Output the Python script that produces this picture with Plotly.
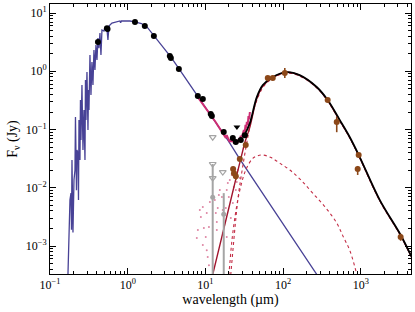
import plotly.graph_objects as go

# ---------------- data ----------------
# stellar photosphere model (blue)
star_wl = [0.1703, 0.1754, 0.1807, 0.1862, 0.1890, 0.1918, 0.1975, 0.2035, 0.2096, 0.2127,
           0.2191, 0.2223, 0.2291, 0.2325, 0.2360, 0.2430, 0.2466, 0.2503, 0.2578, 0.2656,
           0.2735, 0.2818, 0.2860, 0.2902, 0.2990, 0.3080, 0.3126, 0.3172, 0.3267, 0.3365,
           0.3466, 0.3570, 0.3678, 0.3788, 0.3902, 0.4019, 0.4140, 0.4265, 0.4392, 0.4524,
           0.4661, 0.4944, 0.5093, 0.5403, 0.5566, 0.5733, 0.6263, 0.6845, 0.7937, 0.8100,
           0.8300, 0.9205, 1.067, 1.275, 1.5, 1.8, 2.17, 2.6, 3.1, 3.6,
           4.2, 5.0, 6.0, 7.0, 8.0, 10.0, 12.0, 17.2, 20.0, 27.7,
           40.0, 60.0, 100.0, 200.0, 300.0]
star_flux = [3.3e-4, 1.43e-3, 6.2e-3, 8.1e-3, 1.9e-3, 0.030, 1.7e-3, 0.0136, 0.0202, 0.164,
             9.1e-3, 0.0445, 0.0395, 6.2e-3, 0.146, 0.030, 0.321, 0.066, 0.581, 0.0445,
             0.216, 0.030, 0.708, 0.146, 0.971, 0.098, 0.476, 0.216, 1.90, 0.391,
             1.44, 0.581, 2.32, 1.05, 2.82, 1.56, 3.72, 2.5, 4.53, 1.9,
             5.11, 4.91, 5.75, 5.31, 3.44, 5.98, 6.73, 7.0, 7.3, 6.8,
             7.3, 7.35, 7.3, 7.0, 6.6, 5.6, 4.1, 3.1, 2.3, 1.75,
             1.3, 0.93, 0.65, 0.49, 0.38, 0.245, 0.17, 0.084, 0.062, 0.031,
             0.0148, 0.0066, 0.0024, 6.0e-4, 2.65e-4]

# IRS spectrum (pink)
irs_wl = [7.98, 9.0, 10.0, 11.0, 12.1, 13.5, 15.0, 16.3, 17.5, 18.3, 18.8, 19.4, 20.0, 20.6,
          21.2, 21.8, 22.5, 23.2, 24.0, 24.6, 25.3, 26.1, 27.0, 27.7, 28.5, 29.3, 30.2,
          31.2, 32.0, 32.8, 33.5, 34.1, 35.0, 35.8, 36.5, 37.3]
irs_flux = [0.361, 0.29, 0.235, 0.195, 0.165, 0.135, 0.108, 0.092, 0.082, 0.072, 0.080, 0.070,
            0.066, 0.061, 0.068, 0.062, 0.066, 0.060, 0.063, 0.059, 0.064, 0.062, 0.070, 0.066,
            0.078, 0.072, 0.090, 0.098, 0.090, 0.120, 0.105, 0.135, 0.120, 0.170, 0.150, 0.200]

# excess spectrum points (small pink dots)
exc_wl = [7.75, 7.99, 8.47, 8.73, 9.26, 9.26, 9.54, 10.1, 10.4, 10.4, 10.7, 11.1, 11.1, 11.4,
          13.2, 13.6, 14.0, 14.0, 14.4, 14.9, 15.3, 16.3, 16.7, 16.7, 18.3, 18.8, 18.8, 19.4,
          20.0, 20.6, 21.2, 21.8, 22.5, 23.2, 24.6, 25.3, 26.1, 27.7]
exc_flux = [0.00137, 0.00188, 0.00415, 0.00315, 0.00468, 0.00104, 0.00204, 0.00143, 0.00085,
            0.00369, 0.00065, 0.00212, 0.00047, 0.00569, 0.00617, 0.00369, 0.00258, 0.00188,
            0.00449, 0.00751, 0.00914, 0.00693, 0.00167, 0.00415, 0.00449, 0.00914, 0.00143,
            0.0121, 0.00693, 0.0136, 0.00303, 0.0166, 0.00547, 0.0103, 0.00914, 0.0126,
            0.0202, 0.0147]

# dust model, total of dust components (dark red solid)
dust_wl = [12.0, 15.0, 20.0, 25.0, 30.3, 32.0, 37.3, 45.8, 54.7, 73.5, 111, 163, 270, 374,
           534, 718, 966, 1746, 3250, 4500]
dust_flux = [2.7e-4, 9.2e-4, 4.5e-3, 0.0154, 0.044, 0.059, 0.11, 0.34, 0.56, 0.78, 0.96,
             0.85, 0.53, 0.315, 0.143, 0.073, 0.0332, 0.0061, 0.00152, 0.00064]

# cold component (dotted)
cold_wl = [20.5, 21.2, 26.1, 30.0, 35.1, 40.6, 46.0, 55.0, 73.0, 110, 163, 270, 374, 534,
           718, 966, 1746, 3250, 4500]
cold_flux = [2.0e-4, 3.3e-4, 0.0062, 0.022, 0.074, 0.192, 0.32, 0.53, 0.76, 0.93, 0.83,
             0.52, 0.31, 0.14, 0.072, 0.0325, 0.006, 0.0015, 0.00063]

# warm component (dotted)
warm_wl = [19.0, 20.0, 22.0, 25.0, 27.7, 31.0, 34.0, 40.6, 47.0, 54.7, 70.0, 90.0, 122,
           170, 240, 350, 489, 600, 718, 883, 950]
warm_flux = [2.0e-4, 3.3e-4, 1.3e-3, 4.5e-3, 0.0091, 0.016, 0.022, 0.032, 0.0355, 0.0365,
             0.033, 0.0266, 0.0202, 0.0135, 0.0081, 0.0046, 0.00248, 0.0014, 0.00085,
             0.00033, 0.0002]

# total model (black)
tot_wl = [32.0, 37.3, 45.8, 54.7, 73.5, 111, 163, 270, 374, 534, 718, 966, 1746, 3250, 4500]
tot_flux = [0.082, 0.129, 0.36, 0.58, 0.80, 0.97, 0.86, 0.537, 0.321, 0.146, 0.0743, 0.0337,
            0.0062, 0.00155, 0.00065]

# optical / near-IR photometry (black dots)
phot_wl = [0.414, 0.541, 0.55, 1.24, 1.66, 2.17, 3.48, 3.59, 4.55, 7.98, 9.26, 11.7, 12.1,
           17.2, 22.5, 24.6, 28.5, 32.1]
phot_flux = [3.18, 5.5, 5.3, 7.0, 6.0, 4.03, 1.83, 1.69, 1.09, 0.376, 0.334, 0.185, 0.170,
             0.0906, 0.0714, 0.061, 0.066, 0.080]

# black upper limit
ulim_wl = [25.4]
ulim_flux = [0.110]

# grey upper limits and grey points
gtri_wl = [12.4, 12.4, 12.4, 16.7]
gtri_flux = [0.074, 0.0256, 0.0147, 0.0186]
gpt_wl = [12.4, 17.2]
gpt_flux = [0.0069, 0.0035]
gpt_up = [0.0187, 0.0046]
gpt_dn = [0.00687, 0.00348]

# excess photometry (brown)
ex_wl = [22.7, 23.3, 24.6, 27.7, 33.0, 63.4, 73.5, 105, 374, 489, 937, 910, 3250]
ex_flux = [0.021, 0.0178, 0.0157, 0.0312, 0.0542, 0.766, 0.766, 0.933, 0.321, 0.135, 0.0365,
           0.021, 0.00143]
ex_up = [0.002, 0.002, 0.002, 0.002, 0.003, 0.03, 0.03, 0.21, 0.02, 0.03, 0.002, 0.0027, 0.0002]
ex_dn = [0.002, 0.002, 0.002, 0.002, 0.003, 0.03, 0.03, 0.17, 0.02, 0.045, 0.002, 0.0044, 0.0002]

xtick_vals = [0.1, 1, 10, 100, 1000]
xtick_text = ["10<sup>−1</sup>", "10<sup>0</sup>", "10<sup>1</sup>", "10<sup>2</sup>", "10<sup>3</sup>"]
ytick_vals = [0.001, 0.01, 0.1, 1, 10]
ytick_text = ["10<sup>−3</sup>", "10<sup>−2</sup>", "10<sup>−1</sup>", "10<sup>0</sup>", "10<sup>1</sup>"]

# ---------------- figure ----------------
BLUE = "rgb(72,66,150)"
DRED = "rgb(160,20,45)"
DOT = "rgb(195,45,70)"
PINK = "rgb(205,45,115)"
BROWN = "rgb(140,72,25)"
GREY = "rgb(165,165,165)"

fig = go.Figure()
fig.add_trace(go.Scatter(x=star_wl, y=star_flux, mode="lines", line=dict(color=BLUE, width=1.3)))
fig.add_trace(go.Scatter(x=exc_wl, y=exc_flux, mode="markers",
                         marker=dict(color="rgba(210,90,130,0.75)", size=2)))
fig.add_trace(go.Scatter(x=warm_wl, y=warm_flux, mode="lines", line_shape="spline",
                         line=dict(color=DOT, width=1.1, dash="dot")))
fig.add_trace(go.Scatter(x=cold_wl, y=cold_flux, mode="lines", line_shape="spline",
                         line=dict(color=DOT, width=1.1, dash="dot")))
fig.add_trace(go.Scatter(x=dust_wl, y=dust_flux, mode="lines", line_shape="spline",
                         line=dict(color=DRED, width=1.4)))
fig.add_trace(go.Scatter(x=gpt_wl, y=gpt_flux, mode="markers",
                         marker=dict(color=GREY, size=5),
                         error_y=dict(type="data", symmetric=False, array=gpt_up,
                                      arrayminus=gpt_dn, color=GREY, thickness=2, width=0)))
fig.add_trace(go.Scatter(x=gtri_wl, y=gtri_flux, mode="markers",
                         marker=dict(symbol="triangle-down-open", color=GREY, size=6,
                                     line=dict(width=1.2, color=GREY))))
fig.add_trace(go.Scatter(x=irs_wl, y=irs_flux, mode="lines", line=dict(color=PINK, width=2)))
fig.add_trace(go.Scatter(x=tot_wl, y=tot_flux, mode="lines", line_shape="spline",
                         line=dict(color="black", width=1.8)))
fig.add_trace(go.Scatter(x=phot_wl, y=phot_flux, mode="markers",
                         marker=dict(color="black", size=6)))
fig.add_trace(go.Scatter(x=ulim_wl, y=ulim_flux, mode="markers",
                         marker=dict(symbol="triangle-down", color="black", size=6)))
fig.add_trace(go.Scatter(x=ex_wl, y=ex_flux, mode="markers",
                         marker=dict(color=BROWN, size=6),
                         error_y=dict(type="data", symmetric=False, array=ex_up,
                                      arrayminus=ex_dn, color=BROWN, thickness=1.6, width=0)))

minor_vals = [m * 10 ** e for e in range(-4, 4) for m in range(2, 10)]

axis_common = dict(type="log", showline=True, linecolor="black", linewidth=1, mirror="ticks",
                   ticks="inside", ticklen=6, tickwidth=1, tickcolor="black", showgrid=False,
                   zeroline=False, tickmode="array", automargin=False,
                   minor=dict(tickmode="array", tickvals=minor_vals, ticks="inside", ticklen=3,
                              tickwidth=1, tickcolor="black", showgrid=False),
                   tickfont=dict(family="Liberation Serif", size=12, color="black"))

fig.update_layout(
    width=415, height=312,
    margin=dict(l=50, r=4, t=4, b=38),
    paper_bgcolor="white", plot_bgcolor="white",
    showlegend=False,
    font=dict(family="Liberation Serif", size=12, color="black"),
    xaxis=dict(range=[-1, 3.645], tickvals=xtick_vals, ticktext=xtick_text,
               title=dict(text="wavelength (µm)", standoff=0), **axis_common),
    yaxis=dict(range=[-3.48, 1.155], tickvals=ytick_vals, ticktext=ytick_text,
               title=dict(text="F<sub>ν</sub> (Jy)", standoff=4), **axis_common),
)

fig.write_html("out.html", config={"displayModeBar": False},
               post_script="document.body.style.margin='0px';document.body.style.padding='0px';")
